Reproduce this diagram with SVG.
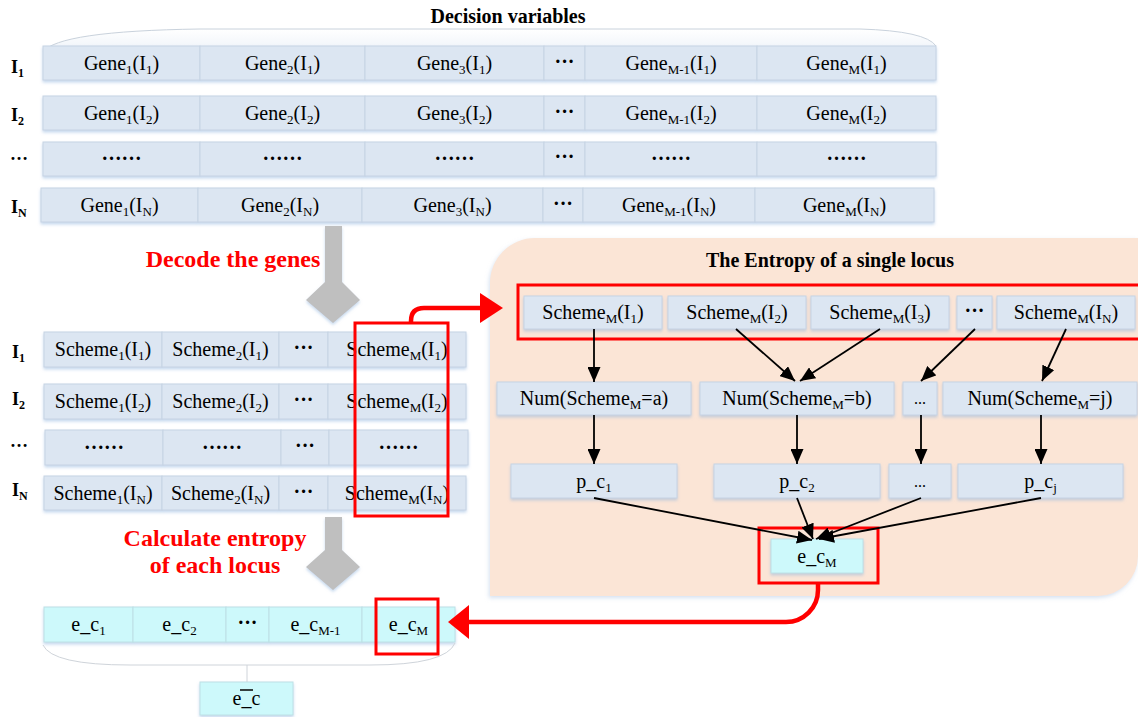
<svg xmlns="http://www.w3.org/2000/svg" width="1138" height="717" viewBox="0 0 1138 717">
<defs>
<style>
.t{font-family:"Liberation Serif","Times New Roman",serif;font-size:20px;text-anchor:middle;fill:#000}
.s{font-size:13px}
.b{font-weight:bold}
.lb{font-family:"Liberation Serif","Times New Roman",serif;font-size:18px;font-weight:bold;fill:#000}
.ls{font-size:12px}
.box{fill:#dce6f2;stroke:#c6d3e4;stroke-width:1}
.cy{fill:#cdf9fb;stroke:#bde0e6;stroke-width:1}
.red{fill:none;stroke:#ff0000;stroke-width:3}
.rt{font-family:"Liberation Serif","Times New Roman",serif;font-size:24px;font-weight:bold;fill:#ff0000;text-anchor:middle}
.ttl{font-family:"Liberation Serif","Times New Roman",serif;font-size:20px;font-weight:bold;fill:#000;text-anchor:middle}
.ar{stroke:#000;stroke-width:1.8;fill:none;marker-end:url(#ah)}
.grey{fill:#bfbfbf}
</style>
<filter id="sh" x="-5%" y="-20%" width="110%" height="160%">
<feDropShadow dx="0" dy="2" stdDeviation="1.5" flood-color="#8fb4de" flood-opacity="0.5"/>
</filter>
<filter id="psh" x="-5%" y="-5%" width="110%" height="110%">
<feDropShadow dx="-1" dy="2" stdDeviation="2" flood-color="#b9cde6" flood-opacity="0.6"/>
</filter>
<marker id="ah" markerUnits="userSpaceOnUse" markerWidth="15" markerHeight="13" refX="15" refY="6.5" orient="auto">
<path d="M0,0 L15,6.5 L0,13 Z" fill="#000"/>
</marker>
<linearGradient id="cap" x1="0" y1="0" x2="0" y2="1">
<stop offset="0" stop-color="#ffffff"/>
<stop offset="1" stop-color="#eef3f9"/>
</linearGradient>
</defs>
<rect width="1138" height="717" fill="#ffffff"/>

<!-- Decision variables -->
<g id="decision-title">
<path d="M43,52 Q58,31 200,29 H860 Q926,31 936,46 L936,52 L43,52 Z" fill="url(#cap)" stroke="none"/>
<path d="M43,52 Q58,31 200,29 H860 Q926,31 936,46" fill="none" stroke="#c9d2dc" stroke-width="1"/>
<text class="ttl" x="508" y="23">Decision variables</text>
</g>

<g id="row-labels-top">
<text class="lb" x="11" y="73">I<tspan class="ls" dy="4">1</tspan></text>
<text class="lb" x="11" y="121">I<tspan class="ls" dy="4">2</tspan></text>
<text class="lb" x="10" y="160">…</text>
<text class="lb" x="11" y="213">I<tspan class="ls" dy="4">N</tspan></text>
</g>

<g id="gene-row-1" filter="url(#sh)">
<rect class="box" x="43" y="46" width="157" height="34"/>
<rect class="box" x="200" y="46" width="165" height="34"/>
<rect class="box" x="365" y="46" width="179" height="34"/>
<rect class="box" x="544" y="46" width="41" height="34"/>
<rect class="box" x="585" y="46" width="172" height="34"/>
<rect class="box" x="757" y="46" width="179" height="34"/>
</g>
<g id="gene-row-1-text">
<text class="t" x="121.5" y="70">Gene<tspan class="s" dy="4">1</tspan><tspan dy="-4">(I</tspan><tspan class="s" dy="4">1</tspan><tspan dy="-4">)</tspan></text>
<text class="t" x="282.5" y="70">Gene<tspan class="s" dy="4">2</tspan><tspan dy="-4">(I</tspan><tspan class="s" dy="4">1</tspan><tspan dy="-4">)</tspan></text>
<text class="t" x="454.5" y="70">Gene<tspan class="s" dy="4">3</tspan><tspan dy="-4">(I</tspan><tspan class="s" dy="4">1</tspan><tspan dy="-4">)</tspan></text>
<text class="t b" x="564.5" y="68">···</text>
<text class="t" x="671" y="70">Gene<tspan class="s" dy="4">M-1</tspan><tspan dy="-4">(I</tspan><tspan class="s" dy="4">1</tspan><tspan dy="-4">)</tspan></text>
<text class="t" x="846.5" y="70">Gene<tspan class="s" dy="4">M</tspan><tspan dy="-4">(I</tspan><tspan class="s" dy="4">1</tspan><tspan dy="-4">)</tspan></text>
</g>

<g id="gene-row-2" filter="url(#sh)">
<rect class="box" x="43" y="96" width="157" height="34"/>
<rect class="box" x="200" y="96" width="165" height="34"/>
<rect class="box" x="365" y="96" width="179" height="34"/>
<rect class="box" x="544" y="96" width="41" height="34"/>
<rect class="box" x="585" y="96" width="172" height="34"/>
<rect class="box" x="757" y="96" width="179" height="34"/>
</g>
<g id="gene-row-2-text">
<text class="t" x="121.5" y="120">Gene<tspan class="s" dy="4">1</tspan><tspan dy="-4">(I</tspan><tspan class="s" dy="4">2</tspan><tspan dy="-4">)</tspan></text>
<text class="t" x="282.5" y="120">Gene<tspan class="s" dy="4">2</tspan><tspan dy="-4">(I</tspan><tspan class="s" dy="4">2</tspan><tspan dy="-4">)</tspan></text>
<text class="t" x="454.5" y="120">Gene<tspan class="s" dy="4">3</tspan><tspan dy="-4">(I</tspan><tspan class="s" dy="4">2</tspan><tspan dy="-4">)</tspan></text>
<text class="t b" x="564.5" y="118">···</text>
<text class="t" x="671" y="120">Gene<tspan class="s" dy="4">M-1</tspan><tspan dy="-4">(I</tspan><tspan class="s" dy="4">2</tspan><tspan dy="-4">)</tspan></text>
<text class="t" x="846.5" y="120">Gene<tspan class="s" dy="4">M</tspan><tspan dy="-4">(I</tspan><tspan class="s" dy="4">2</tspan><tspan dy="-4">)</tspan></text>
</g>

<g id="gene-row-3" filter="url(#sh)">
<rect class="box" x="43" y="142" width="157" height="34"/>
<rect class="box" x="200" y="142" width="165" height="34"/>
<rect class="box" x="365" y="142" width="179" height="34"/>
<rect class="box" x="544" y="142" width="41" height="34"/>
<rect class="box" x="585" y="142" width="172" height="34"/>
<rect class="box" x="757" y="142" width="179" height="34"/>
</g>
<g id="gene-row-3-text">
<text class="t b" x="121.5" y="160">……</text>
<text class="t b" x="282.5" y="160">……</text>
<text class="t b" x="454.5" y="160">……</text>
<text class="t b" x="564.5" y="163">···</text>
<text class="t b" x="671" y="160">……</text>
<text class="t b" x="846.5" y="160">……</text>
</g>

<g id="gene-row-N" filter="url(#sh)">
<rect class="box" x="41" y="188" width="157" height="34"/>
<rect class="box" x="198" y="188" width="164" height="34"/>
<rect class="box" x="362" y="188" width="181" height="34"/>
<rect class="box" x="543" y="188" width="40" height="34"/>
<rect class="box" x="583" y="188" width="172" height="34"/>
<rect class="box" x="755" y="188" width="179" height="34"/>
</g>
<g id="gene-row-N-text">
<text class="t" x="119.5" y="212">Gene<tspan class="s" dy="4">1</tspan><tspan dy="-4">(I</tspan><tspan class="s" dy="4">N</tspan><tspan dy="-4">)</tspan></text>
<text class="t" x="280" y="212">Gene<tspan class="s" dy="4">2</tspan><tspan dy="-4">(I</tspan><tspan class="s" dy="4">N</tspan><tspan dy="-4">)</tspan></text>
<text class="t" x="452.5" y="212">Gene<tspan class="s" dy="4">3</tspan><tspan dy="-4">(I</tspan><tspan class="s" dy="4">N</tspan><tspan dy="-4">)</tspan></text>
<text class="t b" x="563" y="210">···</text>
<text class="t" x="669" y="212">Gene<tspan class="s" dy="4">M-1</tspan><tspan dy="-4">(I</tspan><tspan class="s" dy="4">N</tspan><tspan dy="-4">)</tspan></text>
<text class="t" x="844.5" y="212">Gene<tspan class="s" dy="4">M</tspan><tspan dy="-4">(I</tspan><tspan class="s" dy="4">N</tspan><tspan dy="-4">)</tspan></text>
</g>

<!-- Decode step -->
<g id="decode-arrow" filter="url(#sh)">
<polygon class="grey" points="325,226 342,226 342,282 360,300 333,323 306,300 325,282"/>
</g>
<text class="rt" x="233" y="267">Decode the genes</text>

<!-- Scheme grid -->
<g id="row-labels-scheme">
<text class="lb" x="12" y="358">I<tspan class="ls" dy="4">1</tspan></text>
<text class="lb" x="12" y="405">I<tspan class="ls" dy="4">2</tspan></text>
<text class="lb" x="10" y="447">…</text>
<text class="lb" x="12" y="496">I<tspan class="ls" dy="4">N</tspan></text>
</g>

<g id="scheme-row-1" filter="url(#sh)">
<rect class="box" x="44" y="332" width="118" height="35"/>
<rect class="box" x="162" y="332" width="117" height="35"/>
<rect class="box" x="279" y="332" width="49" height="35"/>
<rect class="box" x="328" y="332" width="138" height="35"/>
</g>
<g id="scheme-row-1-text">
<text class="t" x="103" y="356">Scheme<tspan class="s" dy="4">1</tspan><tspan dy="-4">(I</tspan><tspan class="s" dy="4">1</tspan><tspan dy="-4">)</tspan></text>
<text class="t" x="220.5" y="356">Scheme<tspan class="s" dy="4">2</tspan><tspan dy="-4">(I</tspan><tspan class="s" dy="4">1</tspan><tspan dy="-4">)</tspan></text>
<text class="t b" x="303.5" y="354">···</text>
<text class="t" x="397" y="356">Scheme<tspan class="s" dy="4">M</tspan><tspan dy="-4">(I</tspan><tspan class="s" dy="4">1</tspan><tspan dy="-4">)</tspan></text>
</g>

<g id="scheme-row-2" filter="url(#sh)">
<rect class="box" x="44" y="384" width="118" height="35"/>
<rect class="box" x="162" y="384" width="117" height="35"/>
<rect class="box" x="279" y="384" width="49" height="35"/>
<rect class="box" x="328" y="384" width="138" height="35"/>
</g>
<g id="scheme-row-2-text">
<text class="t" x="103" y="408">Scheme<tspan class="s" dy="4">1</tspan><tspan dy="-4">(I</tspan><tspan class="s" dy="4">2</tspan><tspan dy="-4">)</tspan></text>
<text class="t" x="220.5" y="408">Scheme<tspan class="s" dy="4">2</tspan><tspan dy="-4">(I</tspan><tspan class="s" dy="4">2</tspan><tspan dy="-4">)</tspan></text>
<text class="t b" x="303.5" y="406">···</text>
<text class="t" x="397" y="408">Scheme<tspan class="s" dy="4">M</tspan><tspan dy="-4">(I</tspan><tspan class="s" dy="4">2</tspan><tspan dy="-4">)</tspan></text>
</g>

<g id="scheme-row-3" filter="url(#sh)">
<rect class="box" x="45" y="430" width="118" height="35"/>
<rect class="box" x="163" y="430" width="118" height="35"/>
<rect class="box" x="281" y="430" width="48" height="35"/>
<rect class="box" x="329" y="430" width="139" height="35"/>
</g>
<g id="scheme-row-3-text">
<text class="t b" x="104" y="449">……</text>
<text class="t b" x="222" y="449">……</text>
<text class="t b" x="305" y="452">···</text>
<text class="t b" x="398.5" y="449">……</text>
</g>

<g id="scheme-row-N" filter="url(#sh)">
<rect class="box" x="44" y="476" width="118" height="34"/>
<rect class="box" x="162" y="476" width="117" height="34"/>
<rect class="box" x="279" y="476" width="49" height="34"/>
<rect class="box" x="328" y="476" width="138" height="34"/>
</g>
<g id="scheme-row-N-text">
<text class="t" x="103" y="500">Scheme<tspan class="s" dy="4">1</tspan><tspan dy="-4">(I</tspan><tspan class="s" dy="4">N</tspan><tspan dy="-4">)</tspan></text>
<text class="t" x="220.5" y="500">Scheme<tspan class="s" dy="4">2</tspan><tspan dy="-4">(I</tspan><tspan class="s" dy="4">N</tspan><tspan dy="-4">)</tspan></text>
<text class="t b" x="303.5" y="498">···</text>
<text class="t" x="397" y="500">Scheme<tspan class="s" dy="4">M</tspan><tspan dy="-4">(I</tspan><tspan class="s" dy="4">N</tspan><tspan dy="-4">)</tspan></text>
</g>

<g id="scheme-M-highlight">
<rect class="red" x="355" y="323" width="93" height="193"/>
</g>

<!-- Calculate step -->
<g id="calc-arrow" filter="url(#sh)">
<polygon class="grey" points="325,517 342,517 342,550 360,567 333,590 306,567 325,550"/>
</g>
<text class="rt" x="215" y="546">Calculate entropy</text>
<text class="rt" x="215" y="573">of each locus</text>

<!-- Entropy panel -->
<g id="entropy-panel">
<path d="M490,283 A45,45 0 0 1 535,238 H1138 V556 A40,40 0 0 1 1098,596 H490 Z" fill="#fbe5d6" filter="url(#psh)"/>
<text class="ttl" x="830" y="267">The Entropy of a single locus</text>
</g>

<g id="panel-scheme-1" filter="url(#sh)"><rect class="box" x="524" y="296" width="138" height="33"/></g>
<text class="t" x="593" y="319">Scheme<tspan class="s" dy="4">M</tspan><tspan dy="-4">(I</tspan><tspan class="s" dy="4">1</tspan><tspan dy="-4">)</tspan></text>
<g id="panel-scheme-2" filter="url(#sh)"><rect class="box" x="668" y="296" width="138" height="33"/></g>
<text class="t" x="737" y="319">Scheme<tspan class="s" dy="4">M</tspan><tspan dy="-4">(I</tspan><tspan class="s" dy="4">2</tspan><tspan dy="-4">)</tspan></text>
<g id="panel-scheme-3" filter="url(#sh)"><rect class="box" x="811" y="296" width="138" height="33"/></g>
<text class="t" x="880" y="319">Scheme<tspan class="s" dy="4">M</tspan><tspan dy="-4">(I</tspan><tspan class="s" dy="4">3</tspan><tspan dy="-4">)</tspan></text>
<g id="panel-scheme-dots" filter="url(#sh)"><rect class="box" x="957" y="296" width="35" height="33"/></g>
<text class="t b" x="974.5" y="317">···</text>
<g id="panel-scheme-N" filter="url(#sh)"><rect class="box" x="997" y="296" width="138" height="33"/></g>
<text class="t" x="1066" y="319">Scheme<tspan class="s" dy="4">M</tspan><tspan dy="-4">(I</tspan><tspan class="s" dy="4">N</tspan><tspan dy="-4">)</tspan></text>
<g id="panel-scheme-highlight"><rect class="red" x="518" y="285" width="625" height="54"/></g>

<g id="num-a" filter="url(#sh)"><rect class="box" x="497" y="382" width="194" height="33"/></g>
<text class="t" x="594" y="405">Num(Scheme<tspan class="s" dy="4">M</tspan><tspan dy="-4">=a)</tspan></text>
<g id="num-b" filter="url(#sh)"><rect class="box" x="700" y="382" width="194" height="33"/></g>
<text class="t" x="797" y="405">Num(Scheme<tspan class="s" dy="4">M</tspan><tspan dy="-4">=b)</tspan></text>
<g id="num-dots" filter="url(#sh)"><rect class="box" x="903" y="382" width="34" height="33"/></g>
<text class="t" x="920" y="404" style="font-size:16px">...</text>
<g id="num-j" filter="url(#sh)"><rect class="box" x="943" y="382" width="194" height="33"/></g>
<text class="t" x="1040" y="405">Num(Scheme<tspan class="s" dy="4">M</tspan><tspan dy="-4">=j)</tspan></text>

<g id="p-c1" filter="url(#sh)"><rect class="box" x="511" y="464" width="166" height="34"/></g>
<text class="t" x="594" y="488">p_c<tspan class="s" dy="4">1</tspan></text>
<g id="p-c2" filter="url(#sh)"><rect class="box" x="714" y="464" width="166" height="34"/></g>
<text class="t" x="797" y="488">p_c<tspan class="s" dy="4">2</tspan></text>
<g id="p-dots" filter="url(#sh)"><rect class="box" x="889" y="464" width="62" height="34"/></g>
<text class="t" x="920" y="487" style="font-size:16px">...</text>
<g id="p-cj" filter="url(#sh)"><rect class="box" x="958" y="464" width="165" height="34"/></g>
<text class="t" x="1040.5" y="488">p_c<tspan class="s" dy="4">j</tspan></text>

<g id="e-cM" filter="url(#sh)"><rect class="cy" x="771" y="539" width="92" height="34"/></g>
<text class="t" x="817" y="563">e_c<tspan class="s" dy="4">M</tspan></text>
<g id="e-cM-highlight"><rect class="red" x="759" y="528" width="119" height="55"/></g>

<!-- e_c row -->
<g id="ec-row" filter="url(#sh)">
<rect class="cy" x="44" y="607" width="89" height="35"/>
<rect class="cy" x="133" y="607" width="93" height="35"/>
<rect class="cy" x="226" y="607" width="43" height="35"/>
<rect class="cy" x="269" y="607" width="93" height="35"/>
<rect class="cy" x="362" y="607" width="93" height="35"/>
</g>
<g id="ec-row-text">
<text class="t" x="88.5" y="631">e_c<tspan class="s" dy="4">1</tspan></text>
<text class="t" x="179.5" y="631">e_c<tspan class="s" dy="4">2</tspan></text>
<text class="t b" x="247.5" y="629">···</text>
<text class="t" x="315.5" y="631">e_c<tspan class="s" dy="4">M-1</tspan></text>
<text class="t" x="408.5" y="631">e_c<tspan class="s" dy="4">M</tspan></text>
</g>
<g id="ec-M-highlight"><rect class="red" x="376" y="599" width="62" height="55"/></g>

<g id="ec-mean">
<rect class="cy" x="200" y="682" width="93" height="33" filter="url(#sh)"/>
<text class="t" x="246.5" y="705">e_c</text>
<line x1="240" y1="690" x2="253" y2="690" stroke="#000" stroke-width="1.5"/>
</g>

<!-- connectors -->
<g id="connectors">
<path d="M43,645 Q52,665 130,665 H370 Q446,665 455,643" fill="none" stroke="#cfd4da" stroke-width="1"/>
<line x1="247" y1="665" x2="247" y2="682" stroke="#cfd4da" stroke-width="1"/>

<line class="ar" x1="594" y1="329" x2="594" y2="382"/>
<line class="ar" x1="736" y1="329" x2="795" y2="381"/>
<line class="ar" x1="880" y1="329" x2="800" y2="381"/>
<line class="ar" x1="975" y1="329" x2="921" y2="381"/>
<line class="ar" x1="1066" y1="329" x2="1042" y2="381"/>

<line class="ar" x1="594" y1="415" x2="594" y2="464"/>
<line class="ar" x1="797" y1="415" x2="797" y2="464"/>
<line class="ar" x1="921" y1="415" x2="921" y2="464"/>
<line class="ar" x1="1041" y1="415" x2="1041" y2="464"/>

<line class="ar" x1="594" y1="498" x2="812" y2="540"/>
<line class="ar" x1="797" y1="498" x2="813" y2="539"/>
<line class="ar" x1="921" y1="498" x2="816" y2="539"/>
<line class="ar" x1="1041" y1="498" x2="819" y2="539"/>

<path d="M411,323 V321 Q411,308 424,308 H482" fill="none" stroke="#ff0000" stroke-width="4.5"/>
<polygon points="480,293 503,308 480,323" fill="#ff0000"/>

<path d="M818,583 V590 A32,32 0 0 1 786,622 H466" fill="none" stroke="#ff0000" stroke-width="4.5"/>
<polygon points="469,605 448,622 469,639" fill="#ff0000"/>
</g>
</svg>
